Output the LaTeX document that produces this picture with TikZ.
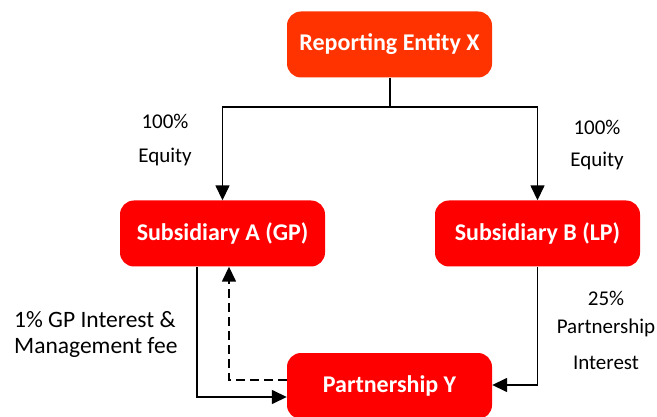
\documentclass[tikz,border=0pt]{standalone}
\usepackage{fontspec}
\setmainfont{Carlito}
\usetikzlibrary{arrows.meta}
\definecolor{topred}{RGB}{255,51,0}
\definecolor{boxred}{RGB}{255,0,0}
\begin{document}
\begin{tikzpicture}[x=1pt,y=-1pt,
  entity/.style={draw=none, rounded corners=14pt, text=white, font=\fontsize{24}{28}\selectfont\bfseries, minimum width=205pt, minimum height=66pt, inner sep=0pt},
  lbl/.style={font=\fontsize{21}{25}\selectfont, inner sep=0pt},
  lbll/.style={font=\fontsize{23.5}{28}\selectfont, inner sep=0pt, anchor=west},
  link/.style={line width=1.5pt, -{Triangle[length=15pt,width=14pt]}},
]
\useasboundingbox (0,0) rectangle (657,417);
\node[entity, fill=topred] (X) at (389.5,44.5) {Reporting Entity X};
\node[entity, fill=boxred] (A) at (222.5,233.5) {Subsidiary A (GP)};
\node[entity, fill=boxred] (B) at (537.5,233.5) {Subsidiary B (LP)};
\node[entity, fill=boxred] (Y) at (389.5,386) {Partnership Y};
\coordinate (split) at (390,107);
\draw[line width=1.5pt] (X.south -| split) -- (split);
\draw[link] (split) -| (A.north);
\draw[link] (split) -| (B.north);
\draw[link] ([xshift=-25.5pt]A.south) |- ([yshift=-11pt]Y.west);
\draw[link, dash pattern=on 9pt off 5pt] ([yshift=6pt]Y.west) -| ([xshift=6.5pt]A.south);
\draw[link] (B.south) |- ([yshift=1pt]Y.east);
\node[lbl] (l1) at (165,121) {100\%};
\node[lbl] (l2) at (165,157) {Equity};
\node[lbl] (r1) at (597,127) {100\%};
\node[lbl] (r2) at (597,161) {Equity};
\node[lbll] (g1) at (14,320) {1\% GP Interest \&};
\node[lbll] (g2) at (14,347) {Management fee};
\node[lbl] (p1) at (606,298) {25\%};
\node[lbl] (p2) at (606,328) {Partnership};
\node[lbl] (p3) at (606,363) {Interest};
\end{tikzpicture}
\end{document}
